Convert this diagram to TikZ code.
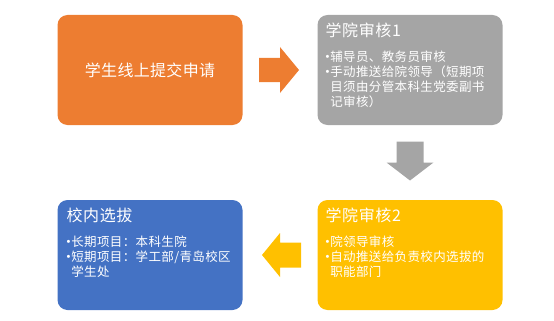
\documentclass[tikz,border=0pt]{standalone}
\usepackage{fontspec}
\newfontfamily\cjk{Noto Sans CJK SC}
\newfontfamily\latin{Liberation Sans}
\usepackage{tikz}
\usetikzlibrary{calc}
\usepackage{xcolor}
\definecolor{boxorange}{HTML}{ED7D31}
\definecolor{boxgray}{HTML}{A5A5A5}
\definecolor{boxyellow}{HTML}{FFC000}
\definecolor{boxblue}{HTML}{4472C4}
\newcommand{\itemdot}{\raisebox{1pt}{\latin\fontsize{11}{11}\selectfont •}\hspace{1pt}}
\newcommand{\itemgap}{\phantom{\itemdot}}

\begin{document}
\begin{tikzpicture}[x=1pt, y=-1pt,
  box/.style={rounded corners=10pt, minimum width=185pt, minimum height=110pt, inner sep=0pt, text=white},
  title/.style={anchor=base west, inner sep=0pt, text=white, font=\cjk\fontsize{16}{18}\selectfont\addfontfeature{LetterSpace=4}},
  items/.style={anchor=north west, inner sep=0pt, align=left, text=white, font=\cjk\fontsize{12.5}{15}\selectfont\addfontfeature{LetterSpace=3}}
]
\useasboundingbox (0,0) rectangle (554,321);
% four steps
\node[box, fill=boxorange, font=\cjk\fontsize{16}{18}\selectfont\addfontfeature{LetterSpace=2}] (apply) at (150,70) {学生线上提交申请};
\node[box, fill=boxgray] (check1) at (410,70) {};
\node[box, fill=boxyellow] (check2) at (410,255) {};
\node[box, fill=boxblue] (select) at (150,255) {};
% texts of the boxes
\node[title] (t1) at ($(check1.north west)+(8,22)$) {学院审核1};
\node[items] (l1) at ($(check1.north west)+(8,36)$) {\itemdot 辅导员、教务员审核\\\itemdot 手动推送给院领导（短期项\\\itemgap 目须由分管本科生党委副书\\\itemgap 记审核）};
\node[title] (t2) at ($(check2.north west)+(8,22)$) {学院审核2};
\node[items] (l2) at ($(check2.north west)+(8,36)$) {\itemdot 院领导审核\\\itemdot 自动推送给负责校内选拔的\\\itemgap 职能部门};
\node[title] (t3) at ($(select.north west)+(9,22)$) {校内选拔};
\node[items] (l3) at ($(select.north west)+(9,36)$) {\itemdot 长期项目：本科生院\\\itemdot 短期项目：学工部/青岛校区\\\itemgap 学生处};
% block arrows between the boxes
\coordinate (a1) at ($(apply.east)!0.5!(check1.west)$);
\coordinate (a2) at ($(check1.south)!0.5!(check2.north)$);
\coordinate (a3) at ($(check2.west)!0.5!(select.east)$);
\fill[boxorange, shift={(a1)}] (-21,-12) -- (0,-12) -- (0,-23) -- (19,0) -- (0,23) -- (0,12) -- (-21,12) -- cycle;
\fill[boxgray, shift={(a2)}] (-13.5,-21) -- (13.5,-21) -- (13.5,0) -- (23.5,0) -- (0,18) -- (-23.5,0) -- (-13.5,0) -- cycle;
\fill[boxyellow, shift={(a3)}] (21,-12.5) -- (0,-12.5) -- (0,-22) -- (-18,0) -- (0,22) -- (0,12.5) -- (21,12.5) -- cycle;
\end{tikzpicture}
\end{document}
